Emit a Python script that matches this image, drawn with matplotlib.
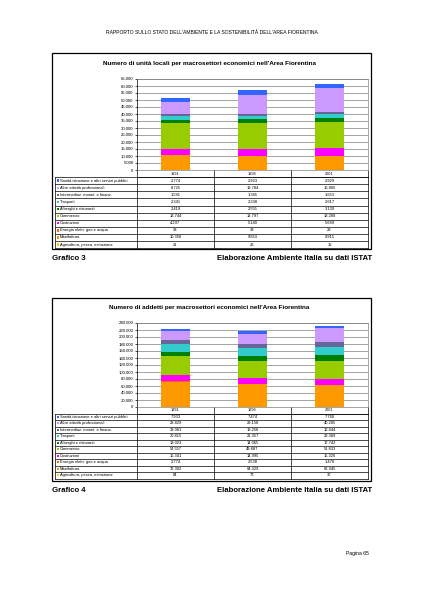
import matplotlib
matplotlib.use('Agg')
import matplotlib.pyplot as plt
from matplotlib.patches import Rectangle

plt.rcParams['font.family'] = ['Liberation Sans', 'DejaVu Sans']

# data (bottom -> top order of the stack)
series = ['Agricoltura, pesca, estrazione', 'Manifattura', 'Energia elettr. gas e acqua',
          'Costruzioni', 'Commercio', 'Alberghi e ristoranti', 'Trasporti',
          'Intermediaz. monet. e finanz.', 'Altre attività professionali',
          'Sanità,istruzione e altri servizi pubblici']
colors = ['#FFCC00', '#FF9900', '#FF6600', '#FF00FF', '#99CC00', '#008000',
          '#33CCCC', '#666699', '#CC99FF', '#3366FF']
years = ['1991', '1996', '2001']

unita = [[21, 26, 16], [10358, 9853, 9915], [38, 39, 29], [4297, 5140, 5689],
         [18744, 18797, 18288], [2419, 2555, 3139], [2341, 2338, 2617],
         [1581, 1365, 1653], [8725, 13784, 16885], [2774, 2923, 2929]]
addetti = [[84, 73, 37], [72302, 64329, 62345], [2774, 2538, 1476], [15341, 14995, 15326],
           [54557, 49887, 51833], [13023, 14065, 17742], [20815, 21357, 23389],
           [13081, 13258, 12644], [23829, 29158, 40285], [7933, 7474, 7760]]

W, H = 424, 599
fig = plt.figure(figsize=(W / 100, H / 100), dpi=100)
page = fig.add_axes([0, 0, 1, 1])
page.set_xlim(0, W)
page.set_ylim(H, 0)
page.axis('off')


def fmt(v):
    return f'{v:,}'.replace(',', '.')


def chart(box, plot, rowh, title, data, ymax, ystep, caption):
    bx0, by0, bx1, by1 = box
    px0, py0, px1, py1 = plot
    # chart frame
    page.add_patch(Rectangle((bx0, by0), bx1 - bx0, by1 - by0, fill=False, lw=0.9, ec='black', zorder=3))
    page.text((bx0 + bx1) / 2 - 2, by0 + 10, title, fontsize=4.6, fontweight='bold', ha='center', va='center')

    ax = fig.add_axes([px0 / W, 1 - py1 / H, (px1 - px0) / W, (py1 - py0) / H])
    bottom = [0, 0, 0]
    for vals, c in zip(data, colors):
        ax.bar(range(3), vals, width=0.37, bottom=bottom, color=c, lw=0, zorder=2)
        bottom = [b + v for b, v in zip(bottom, vals)]
    ax.set_xlim(-0.5, 2.5)
    ax.set_ylim(0, ymax)
    ticks = list(range(0, ymax + 1, ystep))
    ax.set_yticks(ticks)
    ax.set_yticklabels([fmt(t) for t in ticks])
    ax.tick_params(axis='y', labelsize=3.1, length=1.5, width=0.5, pad=1, color='black')
    ax.set_xticks([])
    ax.grid(axis='y', color='#808080', lw=0.5, zorder=0)
    for s in ax.spines.values():
        s.set_color('#808080')
        s.set_linewidth(0.5)
    ax.spines['left'].set_color('black')

    # data table
    cols = [px0 + (px1 - px0) * k / 3 for k in range(4)]
    hy0, hy1 = py1, py1 + rowh
    page.plot([px0, px1], [hy1, hy1], color='black', lw=0.5)
    for x in cols:
        page.plot([x, x], [hy0, hy1], color='black', lw=0.5)
    for k, y in enumerate(years):
        page.text((cols[k] + cols[k + 1]) / 2, (hy0 + hy1) / 2, y, fontsize=2.8, ha='center', va='center')
    lx = bx0 + 3
    ty0 = hy1
    n = len(series)
    for r in range(n + 1):
        y = ty0 + r * rowh
        page.plot([lx, px1], [y, y], color='black', lw=0.5, zorder=1)
    tbottom = min(ty0 + n * rowh, by1)
    for x in [lx] + cols:
        page.plot([x, x], [ty0, tbottom], color='black', lw=0.5, zorder=1)
    for r in range(n):
        idx = n - 1 - r
        yc = ty0 + (r + 0.5) * rowh
        page.add_patch(Rectangle((lx + 1.5, yc - 1.2), 2.4, 2.4, color=colors[idx], lw=0))
        page.text(lx + 5, yc, series[idx], fontsize=2.9, ha='left', va='center')
        for k in range(3):
            page.text((cols[k] + cols[k + 1]) / 2, yc, fmt(data[idx][k]), fontsize=2.9,
                      ha='center', va='center')
    # hide table overflow below the frame
    page.add_patch(Rectangle((bx0 - 2, by1 + 0.5), bx1 - bx0 + 4, 6, color='white', lw=0, zorder=2))

    page.text(bx0, by1 + 9, caption, fontsize=5.6, fontweight='bold', ha='left', va='center', zorder=4)
    page.text(bx1 + 1, by1 + 9, 'Elaborazione Ambiente Italia su dati ISTAT', fontsize=5.6,
              fontweight='bold', ha='right', va='center', zorder=4)


page.text(212, 32, "RAPPORTO SULLO STATO DELL'AMBIENTE E LA SOSTENIBILITÀ DELL'AREA FIORENTINA",
          fontsize=3.6, ha='center', va='center')

chart((52, 53, 371, 249), (137, 79, 368, 170), 7.1,
      "Numero di unità locali per macrosettori economici nell'Area Fiorentina",
      unita, 65000, 5000, 'Grafico 3')
chart((52, 298, 371, 481), (137, 323, 368, 407), 6.5,
      "Numero di addetti per macrosettori economici nell'Area Fiorentina",
      addetti, 240000, 20000, 'Grafico 4')

page.text(357, 554, 'Pagina 65', fontsize=3.6, ha='center', va='center')

fig.savefig('out.png', dpi=100)
